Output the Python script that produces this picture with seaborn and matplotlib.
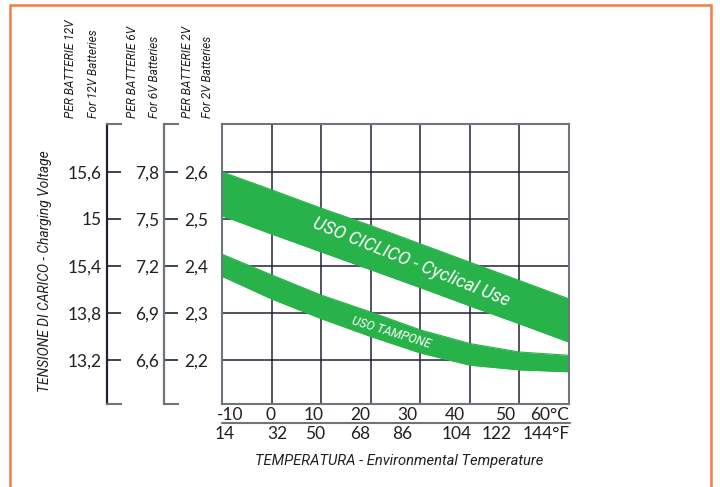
import numpy as np
import pandas as pd
import seaborn as sns
import matplotlib
import matplotlib.pyplot as plt
from matplotlib import font_manager as fm
from matplotlib.patches import Rectangle
from matplotlib.lines import Line2D
from matplotlib.transforms import blended_transform_factory

# ---------------- data ----------------
temps_c = [-10, 0, 10, 20, 30, 40, 50, 60]
cyc_hi = [2.600, 2.562, 2.523, 2.486, 2.447, 2.408, 2.369, 2.330]
cyc_lo = [2.507, 2.468, 2.430, 2.392, 2.354, 2.315, 2.277, 2.238]
tam_hi = [2.425, 2.381, 2.338, 2.302, 2.264, 2.235, 2.217, 2.210]
tam_lo = [2.378, 2.330, 2.288, 2.250, 2.215, 2.189, 2.179, 2.175]

c_labels = ['-10', '0', '10', '20', '30', '40', '50', '60°C']
f_labels = ['14', '32', '50', '68', '86', '104', '122', '144°F']
v_ticks = [2.6, 2.5, 2.4, 2.3, 2.2]
v2_labels = ['2,6', '2,5', '2,4', '2,3', '2,2']
v6_labels = ['7,8', '7,5', '7,2', '6,9', '6,6']
v12_labels = ['15,6', '15', '15,4', '13,8', '13,2']

# label positions (x in °C data units, as drawn in the reference)
c_label_pos = [-8.4, -0.3, 8.4, 17.8, 27.3, 37.0, 47.1, 60.0]
f_label_pos = [-9.4, 1.1, 8.8, 17.8, 26.3, 37.4, 45.5, 60.2]

# ---------------- style ----------------
sns.set_theme(style='white')
names = {f.name for f in fm.fontManager.ttflist}
NARROW = 'Roboto' if 'Roboto' in names else 'DejaVu Sans'
REG = 'Lato' if 'Lato' in names else 'DejaVu Sans'
plt.rcParams['font.family'] = [REG, 'DejaVu Sans']

TXT = '#231f20'
GREEN = '#27b24a'
GRID = '#1e2433'
SPINE = '#6f757c'

W, H = 720, 487
fig = plt.figure(figsize=(W / 100, H / 100), dpi=100)
fx = lambda px: px / W
fy = lambda py: 1 - py / H

ylim = (2.1064, 2.702)
xlim = (-10, 60)
bottom, top = fy(404), fy(124)

ax = fig.add_axes([fx(222), bottom, fx(569) - fx(222), top - bottom])

df = pd.DataFrame({'temp': temps_c, 'cyc_hi': cyc_hi, 'cyc_lo': cyc_lo,
                   'tam_hi': tam_hi, 'tam_lo': tam_lo})
for col in ['cyc_hi', 'cyc_lo', 'tam_hi', 'tam_lo']:
    sns.lineplot(data=df, x='temp', y=col, ax=ax, color=GREEN, lw=0.8, zorder=2)
ax.fill_between(df['temp'], df['cyc_lo'], df['cyc_hi'], color=GREEN, lw=0, zorder=2)
ax.fill_between(df['temp'], df['tam_lo'], df['tam_hi'], color=GREEN, lw=0, zorder=2)

ax.set_xlim(*xlim)
ax.set_ylim(*ylim)
ax.set_xticks(temps_c)
ax.set_yticks(v_ticks)
ax.set_yticklabels(v2_labels)
ax.grid(True, color=GRID, lw=1.1)
ax.set_axisbelow(True)
ax.set_xlabel('')
ax.set_ylabel('')
ax.tick_params(axis='x', length=0, labelbottom=False)
ax.tick_params(axis='y', length=0, pad=10, labelsize=12.5, labelcolor=TXT)
for s in ax.spines.values():
    s.set_visible(True)
    s.set_color(SPINE)
    s.set_linewidth(1.5)

# band labels
ax.text(28.1, 2.4085, 'USO CICLICO - Cyclical Use', rotation=-22,
        rotation_mode='anchor', ha='center', va='center', color='white',
        fontsize=13, style='italic', family=[NARROW, 'DejaVu Sans'], zorder=3)
ax.text(24.1, 2.2574, 'USO TAMPONE', rotation=-17,
        rotation_mode='anchor', ha='center', va='center', color='white',
        fontsize=8.8, style='italic', family=[NARROW, 'DejaVu Sans'], zorder=3)

# secondary voltage scales (12V and 6V)
def side_axis(px_left, labels, spine_col):
    a = fig.add_axes([fx(px_left), bottom, fx(14), top - bottom])
    a.set_ylim(*ylim)
    a.set_xticks([])
    a.set_yticks(v_ticks)
    a.set_yticklabels(labels)
    a.set_facecolor('none')
    a.tick_params(axis='y', direction='in', length=10.3, width=1.2, color=GRID,
                  pad=3.6, labelsize=12.5, labelcolor=TXT, left=True)
    a.spines['right'].set_visible(False)
    a.spines['left'].set_visible(True)
    a.spines['left'].set_color(spine_col)
    a.spines['left'].set_linewidth(1.6)
    for k in ['top', 'bottom']:
        a.spines[k].set_visible(True)
        a.spines[k].set_color(SPINE)
        a.spines[k].set_linewidth(1.5)
    return a

side_axis(107, v12_labels, GRID)
side_axis(164, v6_labels, SPINE)

# axis header texts
narrow_it = dict(style='italic', family=[NARROW, 'DejaVu Sans'], color=TXT)
for px, txt in [(70, 'PER BATTERIE 12V'), (93, 'For 12V Batteries'),
                (133, 'PER BATTERIE 6V'), (155, 'For 6V Batteries'),
                (187, 'PER BATTERIE 2V'), (208, 'For 2V Batteries')]:
    fig.text(fx(px), fy(118), txt, rotation=90, rotation_mode='anchor',
             ha='left', va='center', fontsize=8.6, **narrow_it)

fig.text(fx(45), fy(271), 'TENSIONE DI CARICO - Charging Voltage', rotation=90,
         rotation_mode='anchor', ha='center', va='center', fontsize=9.9, **narrow_it)

# temperature labels
trans = blended_transform_factory(ax.transData, fig.transFigure)
for i, (p, t) in enumerate(zip(c_label_pos, c_labels)):
    ha = 'right' if i == len(c_labels) - 1 else 'center'
    ax.text(p, fy(415), t, transform=trans, ha=ha, va='center',
            fontsize=12.5, color=TXT)
for i, (p, t) in enumerate(zip(f_label_pos, f_labels)):
    ha = 'right' if i == len(f_labels) - 1 else 'center'
    ax.text(p, fy(434), t, transform=trans, ha=ha, va='center',
            fontsize=12.5, color=TXT)
fig.add_artist(Line2D([fx(222), fx(570)], [fy(423), fy(423)], color=SPINE, lw=1.5))

fig.text(fx(399), fy(461), 'TEMPERATURA - Environmental Temperature',
         ha='center', va='center', fontsize=10.6, **narrow_it)

# orange frame
fig.add_artist(Rectangle((fx(10), -0.1), fx(701), fy(5) + 0.1, transform=fig.transFigure,
                         fill=False, edgecolor='#ec8048', lw=1.8))

fig.savefig('out.png', dpi=100)
